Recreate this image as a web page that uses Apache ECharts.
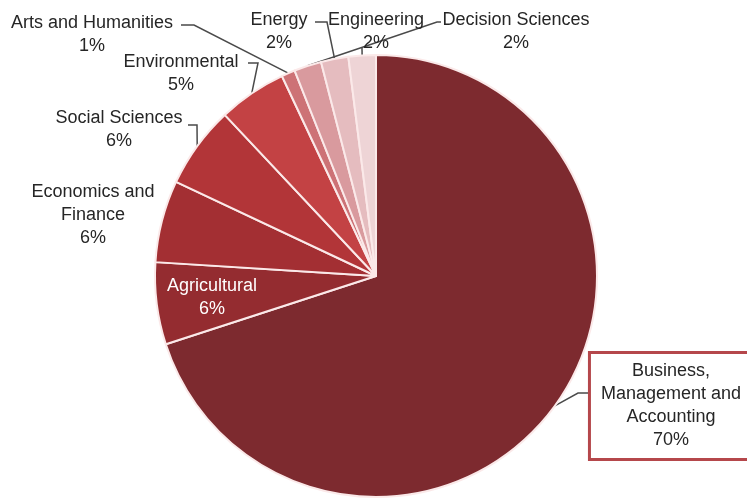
<!DOCTYPE html>
<html>
<head>
<meta charset="utf-8">
<script src="https://cdn.jsdelivr.net/npm/echarts@6/dist/echarts.min.js"></script>
<style>
  html, body { margin: 0; padding: 0; background: #ffffff; }
  #chart { width: 747px; height: 502px; }
</style>
</head>
<body>
<div id="chart"></div>
<script>
// Subject areas, listed clockwise from twelve o'clock
const categories = [
  'Business,\nManagement and\nAccounting',
  'Agricultural',
  'Economics and\nFinance',
  'Social Sciences',
  'Environmental',
  'Arts and Humanities',
  'Energy',
  'Engineering',
  'Decision Sciences'
];

// Share of publications per subject area (%)
const shares = [70, 6, 6, 6, 5, 1, 2, 2, 2];

// Slice fills, darkest for the largest area
const sliceColors = [
  '#7d2a2f', '#942c30', '#a32f33', '#b23538', '#c34244',
  '#cd7276', '#d99a9e', '#e5bcbf', '#eed4d6'
];

// Centre of each label block (px)
const labelSpots = [
  [671, 406], [212, 298], [93, 215], [119, 130], [181, 74],
  [92, 35], [279, 32], [376, 32], [516, 32]
];

// Bend and end points of each leader line after its anchor on the slice rim
const leaderBends = [
  [[578, 393], [591, 393]],
  null,
  null,
  [[197, 125], [188, 125]],
  [[258, 63], [248, 63]],
  [[194, 25], [181, 25]],
  [[437, 22], [441, 22]],
  [[327, 22], [315, 22]],
  [[362, 48]]
];

const seriesData = categories.map(function (name, i) {
  const item = {
    name: name,
    value: shares[i],
    itemStyle: { color: sliceColors[i] }
  };
  if (i === 0) {
    item.label = {
      backgroundColor: '#ffffff',
      borderColor: '#b5474b',
      borderWidth: 3,
      padding: [7, 10, 5, 10]
    };
  }
  if (i === 1) {
    item.label = { color: '#ffffff' };
    item.labelLine = { show: false };
  }
  if (i === 2) {
    item.labelLine = { show: false };
  }
  return item;
});

const chart = echarts.init(document.getElementById('chart'), null, { renderer: 'canvas' });

chart.setOption({
  animation: false,
  backgroundColor: '#ffffff',
  series: [{
    type: 'pie',
    center: [376, 276],
    radius: 221,
    startAngle: 90,
    clockwise: true,
    avoidLabelOverlap: false,
    data: seriesData,
    itemStyle: {
      borderColor: '#fbe9e9',
      borderWidth: 2
    },
    label: {
      show: true,
      position: 'outside',
      formatter: '{b}\n{c}%',
      fontFamily: 'Liberation Sans, Arial, sans-serif',
      fontSize: 18,
      lineHeight: 23,
      color: '#262626'
    },
    labelLine: {
      show: true,
      length: 10,
      length2: 10,
      lineStyle: { color: '#4a4a4a', width: 1.5 }
    },
    labelLayout: function (params) {
      const i = params.dataIndex;
      const spot = labelSpots[i];
      const out = { x: spot[0], y: spot[1], align: 'center', verticalAlign: 'middle' };
      const bends = leaderBends[i];
      if (bends && params.labelLinePoints) {
        out.labelLinePoints = [params.labelLinePoints[0]].concat(bends);
      }
      return out;
    },
    emphasis: { disabled: true }
  }]
});
</script>
</body>
</html>
